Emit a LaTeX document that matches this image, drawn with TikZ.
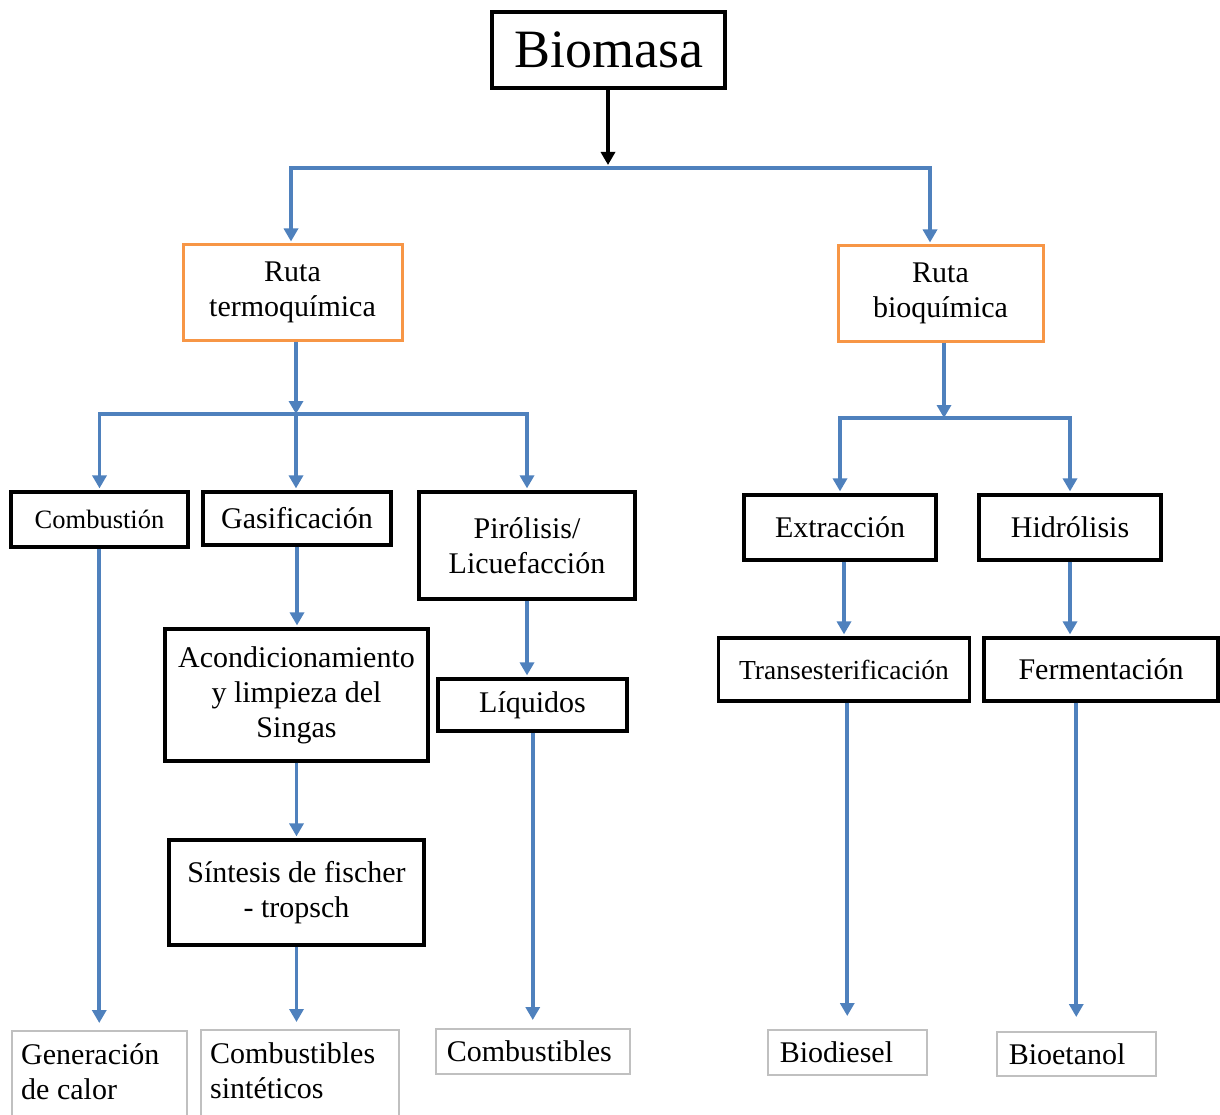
\documentclass[tikz,border=0pt]{standalone}
\usepackage{fontspec}
\setmainfont{Liberation Serif}
\usetikzlibrary{arrows.meta,calc}
\definecolor{flowblue}{HTML}{4F81BD}
\definecolor{routeorange}{HTML}{F79646}
\definecolor{outgray}{HTML}{C0C0C0}
\begin{document}
\begin{tikzpicture}[x=1pt,y=-1pt,
  txt/.style={font=\fontsize{30}{35}\selectfont},
  stage/.style={draw=black, line width=3.2pt, rectangle, inner sep=0pt, align=center, txt},
  route/.style={draw=routeorange, line width=3pt, rectangle, inner sep=0pt, align=center, txt},
  product/.style={draw=outgray, line width=1.5pt, rectangle, inner sep=0pt, anchor=north west},
  prodtext/.style={anchor=north west, inner xsep=10pt, inner ysep=9.5pt, align=left, txt},
  flow/.style={draw=flowblue, line width=3.8pt, miter limit=10},
  arr/.style={flow, -{Triangle[width=14pt,length=13pt]}, shorten >=2pt},
  blackarr/.style={draw=black, line width=3.2pt, -{Triangle[width=14pt,length=13pt]}, shorten >=3pt},
]
\useasboundingbox (0,0) rectangle (1220,1115);

% source
\node[stage, minimum width=233pt, minimum height=76pt, font=\fontsize{54}{60}\selectfont] (biomasa) at (608.5,50) {Biomasa};

% conversion routes
\node[route, minimum width=219pt, minimum height=95pt] (termo) at (292.5,292.5) {Ruta\\termoquímica};
\node[route, minimum width=205pt, minimum height=95pt] (bio) at (940.5,293.5) {Ruta\\bioquímica};

% thermochemical processes
\node[stage, minimum width=177pt, minimum height=55pt, font=\fontsize{26.5}{31}\selectfont] (comb) at (99.5,519.5) {Combustión};
\node[stage, minimum width=188pt, minimum height=53pt] (gas) at (297,518.5) {Gasificación};
\node[stage, minimum width=216pt, minimum height=107pt] (piro) at (527,545.5) {Pirólisis/\\Licuefacción};
\node[stage, minimum width=263pt, minimum height=132pt] (acond) at (296.5,695) {Acondicionamiento\\y limpieza del\\Singas};
\node[stage, minimum width=255pt, minimum height=105pt] (sint) at (296.5,892.5) {Síntesis de fischer\\- tropsch};
\node[stage, minimum width=189pt, minimum height=52pt] (liq) at (532.5,705) {Líquidos};

% biochemical processes
\node[stage, minimum width=192pt, minimum height=65pt] (extr) at (840,527.5) {Extracción};
\node[stage, minimum width=182pt, minimum height=65pt] (hidr) at (1070,527.5) {Hidrólisis};
\node[stage, minimum width=251pt, minimum height=63pt, font=\fontsize{27.5}{32}\selectfont] (trans) at (844,669.5) {Transesterificación};
\node[stage, minimum width=234pt, minimum height=63pt] (ferm) at (1101,669.5) {Fermentación};

% products
\node[product, minimum width=175pt, minimum height=100pt] (gen) at (11,1030) {};
\node[prodtext] (genT) at (gen.north west) {\strut Generación\\de calor};
\node[product, minimum width=198pt, minimum height=100pt] (csin) at (200,1029) {};
\node[prodtext] (csinT) at (csin.north west) {\strut Combustibles\\sintéticos};
\node[product, minimum width=194pt, minimum height=45pt, inner xsep=11pt, text width=172pt, align=left, txt] (cfuel) at (435,1028) {Combustibles};
\node[product, minimum width=159pt, minimum height=45pt, inner xsep=12pt, text width=135pt, align=left, txt] (biod) at (767,1029) {Biodiesel};
\node[product, minimum width=159pt, minimum height=44pt, inner xsep=12pt, text width=135pt, align=left, txt] (bioet) at (996,1031) {Bioetanol};

% junctions
\coordinate (j0) at (608,168);
\coordinate (jl) at (291,168);
\coordinate (jr) at (930,168);
\coordinate (j1) at (296,414);
\coordinate (j2) at (944,418);

% connectors: source to routes
\draw[blackarr] (biomasa.south -| j0) -- (j0);
\draw[arr] (j0) -- (jl) -- (jl |- termo.north);
\draw[arr] (j0) -- (jr) -- (jr |- bio.north);

% thermochemical branch
\draw[arr, shorten >=0pt] (termo.south -| j1) -- (j1);
\draw[arr] (j1) -- (comb.north |- j1) -- (comb.north);
\draw[arr] (j1) -- (j1 |- gas.north);
\draw[arr] (j1) -- (piro.north |- j1) -- (piro.north);
\draw[arr] (gas.south) -- (gas.south |- acond.north);
\draw[arr] (acond.south) -- (sint.north);
\draw[arr] (piro.south) -- (piro.south |- liq.north);

% biochemical branch
\draw[arr, shorten >=0pt] (bio.south -| j2) -- (j2);
\draw[arr] (j2) -- (extr.north |- j2) -- (extr.north);
\draw[arr] (j2) -- (hidr.north |- j2) -- (hidr.north);
\draw[arr] (extr.south -| trans.north) -- (trans.north);
\draw[arr] (hidr.south) -- (hidr.south |- ferm.north);

% connectors to products
\draw[arr, shorten >=7pt] (comb.south -| gen.north) -- (gen.north);
\draw[arr, shorten >=7pt] (sint.south) -- (sint.south |- csin.north);
\draw[arr, shorten >=8pt] (liq.south -| cfuel.north) -- (cfuel.north);
\draw[arr, shorten >=13pt] (trans.south -| biod.north) -- (biod.north);
\draw[arr, shorten >=14pt] (ferm.south -| bioet.north) -- (bioet.north);
\end{tikzpicture}
\end{document}
